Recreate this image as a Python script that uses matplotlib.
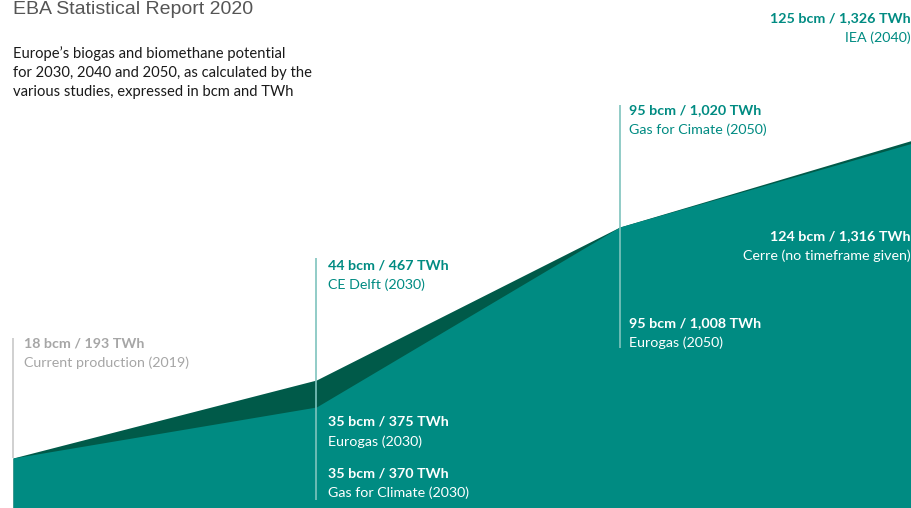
import matplotlib
matplotlib.use("Agg")
import matplotlib.pyplot as plt

# Data (bcm)
positions = [0, 1, 2, 3]
upper_bcm = [18, 44, 95, 125]   # CE Delft 2030, Gas for Climate 2050, IEA 2040
lower_bcm = [18, 35, 95, 124]   # Eurogas 2030, Eurogas 2050, Cerre

TEAL = "#008b82"
DARK = "#005a49"
GREY = "#a6a6a6"
LINE_TEAL = "#7fc4be"

plt.rcParams['font.family'] = ['Lato', 'DejaVu Sans']

W, H = 911, 508
fig = plt.figure(figsize=(W / 100, H / 100), dpi=100)
ax = fig.add_axes([0, 0, 1, 1])
ax.set_axis_off()
ax.set_xlim(-13 / 303.5, 2.96)
ax.set_ylim((512 - 508) / 3, 512 / 3)

ax.fill_between(positions, 0, upper_bcm, color=DARK, lw=0)
ax.fill_between(positions, 0, lower_bcm, color=TEAL, lw=0)

# guide lines
ax.vlines(0, upper_bcm[0], 58, color="#c8c8c8", lw=1.2)
ax.vlines(1, 4, 84.7, color=LINE_TEAL, lw=1.2)
ax.vlines(2, 54.7, 135.7, color=LINE_TEAL, lw=1.2)

def px(x, y):
    return x / W, 1 - y / H

FS = 10.3

def label(x, y, t1, t2, color, ha="left"):
    fig.text(*px(x, y), t1, color=color, fontsize=FS, fontweight="bold", ha=ha, va="center")
    fig.text(*px(x, y + 19.5), t2, color=color, fontsize=FS, ha=ha, va="center")

fig.text(*px(13, 9), "EBA Statistical Report 2020", color="#555555", fontsize=14,
         family=['Liberation Sans', 'DejaVu Sans'], ha="left", va="center")
subtitle = ["Europe\u2019s biogas and biomethane potential",
            "for 2030, 2040 and 2050, as calculated by the",
            "various studies, expressed in bcm and TWh"]
for i, line in enumerate(subtitle):
    fig.text(*px(13, 54 + 19 * i), line, color="#1a1a1a", fontsize=10.6, ha="left", va="center")

label(24, 343, "18 bcm / 193 TWh", "Current production (2019)", GREY)
label(328, 265, "44 bcm / 467 TWh", "CE Delft (2030)", TEAL)
label(328, 422, "35 bcm / 375 TWh", "Eurogas (2030)", "white")
label(328, 473, "35 bcm / 370 TWh", "Gas for Climate (2030)", "white")
label(629, 110, "95 bcm / 1,020 TWh", "Gas for Cimate (2050)", TEAL)
label(629, 323, "95 bcm / 1,008 TWh", "Eurogas (2050)", "white")
label(911, 18, "125 bcm / 1,326 TWh", "IEA (2040)", TEAL, ha="right")
label(911, 236, "124 bcm / 1,316 TWh", "Cerre (no timeframe given)", "white", ha="right")

fig.savefig("out.png", dpi=100)
